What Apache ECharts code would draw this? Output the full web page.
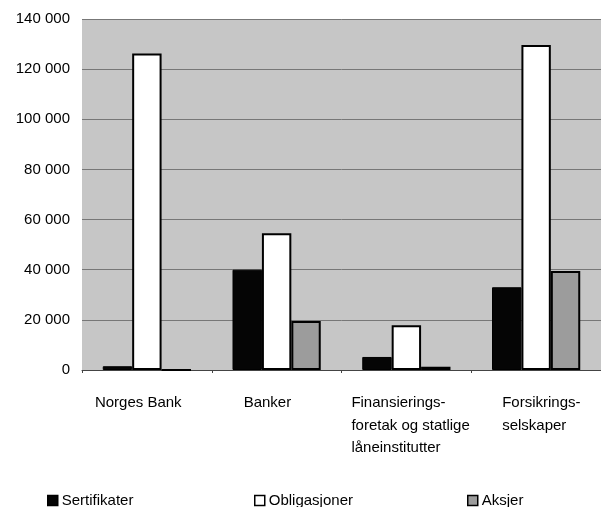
<!DOCTYPE html>
<html>
<head>
<meta charset="utf-8">
<script src="https://cdn.jsdelivr.net/npm/echarts@6/dist/echarts.min.js"></script>
<style>
html,body{margin:0;padding:0;background:#fff;}
#c{width:601px;height:507px;}
</style>
</head>
<body>
<div id="c"></div>
<script>
var categories = ['Norges Bank', 'Banker', 'Finansierings-\nforetak og statlige\nl\u00e5neinstitutter', 'Forsikrings-\nselskaper'];
var sertifikater = [1500, 40000, 5200, 33000];
var obligasjoner = [126200, 54500, 17800, 129600];
var aksjer = [0, 19500, 1300, 39500];
var yTicks = [0, 20000, 40000, 60000, 80000, 100000, 120000, 140000];

var FONT = 'Liberation Sans';
var chart = echarts.init(document.getElementById('c'), null, {renderer: 'canvas'});

function fmt(v) {
  var s = String(v);
  return s.length > 3 ? s.slice(0, s.length - 3) + ' ' + s.slice(-3) : s;
}

var labelWidths = [104, 66, 110, 68];
var rich = {};
labelWidths.forEach(function (w, i) {
  rich['c' + i] = {width: w, align: 'left', fontFamily: FONT, fontSize: 15, color: '#000', lineHeight: 22.5};
});

var legendText = {fontFamily: FONT, fontSize: 15, color: '#000', padding: [0, 0, 0, -1]};

chart.setOption({
  backgroundColor: '#fff',
  animation: false,
  grid: {left: 82, top: 19, width: 520, height: 351, show: true, backgroundColor: '#c6c6c6', borderWidth: 0, containLabel: false},
  xAxis: {
    type: 'category',
    data: categories,
    axisLine: {show: true, lineStyle: {color: '#444', width: 1}},
    axisTick: {show: true, length: 3, inside: false, lineStyle: {color: '#444'}},
    axisLabel: {
      margin: 22,
      interval: 0,
      formatter: function (value, index) {
        return value.split('\n').map(function (l) { return '{c' + index + '|' + l + '}'; }).join('\n');
      },
      rich: rich
    }
  },
  yAxis: {
    type: 'value',
    min: yTicks[0],
    max: yTicks[yTicks.length - 1],
    interval: 20000,
    axisLine: {show: false},
    axisTick: {show: false},
    splitLine: {show: true, lineStyle: {color: '#777', width: 1}},
    axisLabel: {margin: 12, fontFamily: FONT, fontSize: 15, color: '#000', formatter: fmt}
  },
  legend: [
    {data: ['Sertifikater'], icon: 'rect', left: 42, top: 488, itemWidth: 10, itemHeight: 10, itemGap: 0, textStyle: legendText, itemStyle: {borderWidth: 1.5}},
    {data: ['Obligasjoner'], icon: 'rect', left: 249, top: 488, itemWidth: 10, itemHeight: 10, itemGap: 0, textStyle: legendText, itemStyle: {borderWidth: 1.5}},
    {data: ['Aksjer'], icon: 'rect', left: 462, top: 488, itemWidth: 10, itemHeight: 10, itemGap: 0, textStyle: legendText, itemStyle: {borderWidth: 1.5}}
  ],
  series: [
    {name: 'Sertifikater', type: 'bar', data: sertifikater, barGap: '0%', barCategoryGap: '32%',
     itemStyle: {color: '#050505', borderColor: '#000', borderWidth: 1}},
    {name: 'Obligasjoner', type: 'bar', data: obligasjoner,
     itemStyle: {color: '#ffffff', borderColor: '#000', borderWidth: 2}},
    {name: 'Aksjer', type: 'bar', data: aksjer,
     itemStyle: {color: '#9c9c9c', borderColor: '#000', borderWidth: 2}}
  ]
});
</script>
</body>
</html>
